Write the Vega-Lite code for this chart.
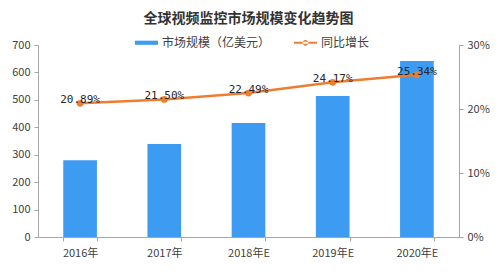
{
  "$schema": "https://vega.github.io/schema/vega-lite/v6.json",
  "width": 421,
  "height": 192,
  "autosize": {"type": "none"},
  "padding": {"left": 38, "top": 45, "right": 41, "bottom": 41},
  "background": "white",
  "title": {"text": "全球视频监控市场规模变化趋势图", "font": "Noto Sans CJK SC", "fontSize": 14, "fontWeight": "bold", "color": "#333333", "anchor": "middle", "offset": 5},
  "config": {
    "view": {"stroke": null},
    "font": "Noto Sans CJK SC",
    "axis": {"labelFont": "Noto Sans CJK SC", "labelFontSize": 11, "labelColor": "#404040", "domainColor": "#a6a6a6", "tickColor": "#a6a6a6", "grid": false, "title": null}
  },
  "data": {"values": [
    {"year": "2016年", "market": 280, "growth": 0.2089, "label": "20.89%"},
    {"year": "2017年", "market": 339, "growth": 0.2150, "label": "21.50%"},
    {"year": "2018年E", "market": 416, "growth": 0.2249, "label": "22.49%"},
    {"year": "2019年E", "market": 514, "growth": 0.2417, "label": "24.17%"},
    {"year": "2020年E", "market": 642, "growth": 0.2534, "label": "25.34%"}
  ]},
  "encoding": {
    "x": {"field": "year", "type": "nominal", "sort": null,
      "scale": {"paddingInner": 0.6, "paddingOuter": 0.3},
      "axis": {"labelAngle": 0, "tickBand": "extent", "tickSize": 4, "labelPadding": 6, "domainColor": "#a6a6a6"}}
  },
  "layer": [
    {
      "mark": {"type": "bar", "color": "#3d9cf2"},
      "encoding": {
        "y": {"field": "market", "type": "quantitative", "scale": {"domain": [0, 700]},
          "axis": {"values": [0, 100, 200, 300, 400, 500, 600, 700], "tickSize": 4, "labelPadding": 4}},
        "color": {"datum": "市场规模（亿美元）", "type": "nominal",
          "scale": {"domain": ["市场规模（亿美元）", "同比增长"], "range": ["#3d9cf2", "#ed7d31"]},
          "legend": {"orient": "none", "legendX": 97, "legendY": -14, "direction": "horizontal", "title": null,
            "labelFont": "Noto Sans CJK SC", "labelFontSize": 12, "labelColor": "#404040", "columnPadding": 23, "labelOffset": 4,
            "symbolSize": 529, "symbolStrokeWidth": 0,
            "encode": {"symbols": {"update": {"shape": {"signal": "datum.value === '同比增长' ? 'M-1,-0.09H1V0.09H-1Z M-0.25,0a0.25,0.25 0 1,0 0.5,0a0.25,0.25 0 1,0 -0.5,0Z' : 'M-1,-0.18H1V0.18H-1Z'"}}}}}
        }
      }
    },
    {
      "layer": [
        {
          "mark": {"type": "line", "color": "#ed7d31", "strokeWidth": 2.5},
          "encoding": {"y": {"field": "growth", "type": "quantitative", "scale": {"domain": [0, 0.3]},
            "axis": {"orient": "right", "format": ".0%", "values": [0, 0.05, 0.1, 0.15, 0.2, 0.25, 0.3], "tickSize": 4, "labelPadding": 4}}}
        },
        {
          "mark": {"type": "point", "filled": true, "color": "#ed7d31", "size": 45, "opacity": 1},
          "encoding": {"y": {"field": "growth", "type": "quantitative"}}
        },
        {
          "mark": {"type": "text", "font": "DejaVu Sans Mono", "fontSize": 11, "color": "#262626", "dy": -3},
          "encoding": {"y": {"field": "growth", "type": "quantitative"}, "text": {"field": "label"}}
        }
      ]
    }
  ],
  "resolve": {"scale": {"y": "independent"}}
}
